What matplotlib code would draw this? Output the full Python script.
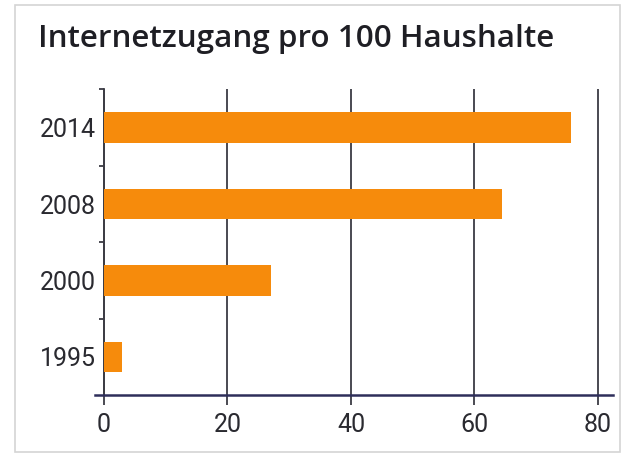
import matplotlib
matplotlib.use("Agg")
import matplotlib.pyplot as plt
from matplotlib.patches import Rectangle

# data
years = ["1995", "2000", "2008", "2014"]
access = [3, 27, 64.5, 75.7]
xticks = [0, 20, 40, 60, 80]
title = "Internetzugang pro 100 Haushalte"

ORANGE = "#F68B0C"
LINE = "#3c3c44"
TXT = "#2a2a30"

plt.rcParams["font.family"] = ["Roboto", "DejaVu Sans"]

fig = plt.figure(figsize=(6.27, 4.57), dpi=100)
ax = fig.add_axes([0.151, 0.1357, 0.8273, 0.6685])

ypos = list(range(len(years)))
ax.barh(ypos, access, height=0.4, color=ORANGE, zorder=3)

ax.set_xlim(-1.5, 82.5)
ax.set_ylim(-0.5, len(years) - 0.5)

ax.set_xticks(xticks)
ax.set_xticklabels([str(t) for t in xticks])
ax.tick_params(axis="x", direction="out", length=7, width=1.3, color=LINE, pad=6,
               labelsize=18, labelcolor=TXT)
ax.grid(axis="x", color=LINE, lw=1.3, zorder=1)

ax.set_yticks(ypos)
ax.set_yticklabels(years)
ax.set_yticks([y + 0.5 for y in ypos], minor=True)
ax.tick_params(axis="y", which="major", length=0, pad=6, labelsize=18, labelcolor=TXT)
ax.tick_params(axis="y", which="minor", direction="out", length=3.5, width=1.3, color=LINE)

for s in ("top", "right"):
    ax.spines[s].set_visible(False)
ax.spines["left"].set_position(("data", 0))
ax.spines["left"].set_color(LINE)
ax.spines["left"].set_linewidth(1.3)
ax.spines["bottom"].set_color("#2e2e5a")
ax.spines["bottom"].set_linewidth(1.8)

fig.text(38 / 627, 1 - 47 / 457, title, fontsize=22.6, fontweight="semibold",
         family=["Open Sans", "DejaVu Sans"],
         color="#1e1e24", va="baseline", ha="left")

# thin frame of the scanned box
fig.patches.append(Rectangle((15 / 627, 5 / 457), 605 / 627, 447 / 457,
                             transform=fig.transFigure, fill=False,
                             edgecolor="#d4d4d4", lw=1.2))

fig.savefig("out.png", dpi=100)
